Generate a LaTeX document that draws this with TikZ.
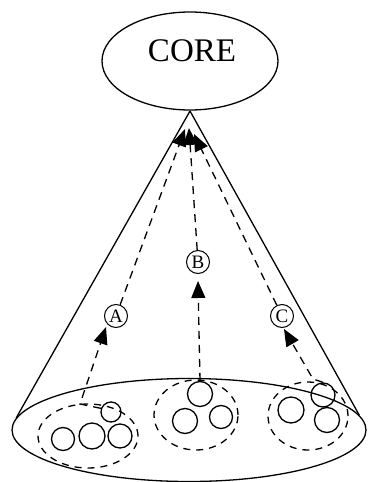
\documentclass[tikz,border=0pt]{standalone}
\usepackage{fontspec}
\setmainfont{Liberation Serif}
\usetikzlibrary{arrows.meta,shapes.geometric}
\begin{document}
\begin{tikzpicture}[x=1pt,y=-1pt,line width=1.3pt,
  ball/.style={draw,circle,inner sep=0pt,minimum size=#1},
  grp/.style={draw,ellipse,dash pattern=on 7pt off 6pt,inner sep=0pt},
  flow/.style={dash pattern=on 8pt off 6pt,-{Triangle[length=17pt,width=14pt]}},
  lab/.style={draw,circle,line width=1pt,inner sep=0pt,minimum size=23pt,font=\fontsize{19}{19}\selectfont}]
\useasboundingbox (0,0) rectangle (368,482);
% core
\node[draw,ellipse,inner sep=0pt,minimum width=176pt,minimum height=98pt] (core) at (190,61) {};
\node[font=\fontsize{33}{33}\selectfont,inner sep=0pt] (coretxt) at (192,51) {CORE};
% base
\node[draw,ellipse,inner sep=0pt,minimum width=354pt,minimum height=103pt] (base) at (189,430) {};
\coordinate (apex) at (190,111);
\draw (apex) -- (base.176);
\draw (apex) -- (base.5);
% groups
\node[grp,minimum width=100pt,minimum height=64pt] (ga) at (88,436) {};
\node[grp,minimum width=84pt,minimum height=70pt] (gb) at (196,415) {};
\node[grp,minimum width=80pt,minimum height=68pt] (gc) at (308,416) {};
% balls
\node[ball=23pt] (a1) at (63,439) {};
\node[ball=26pt] (a2) at (92,436) {};
\node[ball=24pt] (a3) at (120,436) {};
\node[ball=20pt] (a4) at (111,412) {};
\node[ball=25pt] (b1) at (200,394) {};
\node[ball=25pt] (b2) at (185,421) {};
\node[ball=23pt] (b3) at (221,417) {};
\node[ball=26pt] (c1) at (291,410) {};
\node[ball=24pt] (c2) at (323,395) {};
\node[ball=25pt] (c3) at (327,420) {};
% labels
\node[lab] (A) at (116,316) {A};
\node[lab] (B) at (198,262) {B};
\node[lab] (C) at (282,316) {C};
% coordinates
\coordinate (abend) at (80,404);
\coordinate (aTip) at (106,327);
\coordinate (bTip) at (198,281);
\coordinate (cbend) at (313,379);
\coordinate (cTip) at (284,329);
\coordinate (topA) at (185,129);
\coordinate (topB) at (189,128);
\coordinate (topC) at (194,134);
% flows
\draw[flow] (a4.160) -- (abend) -- (aTip);
\draw[flow] (b1.north) -- (bTip);
\draw[flow] (c2.north) -- (cbend) -- (cTip);
\draw[flow] (A) -- (topA);
\draw[flow] (B) -- (topB);
\draw[flow] (C) -- (topC);
\end{tikzpicture}
\end{document}
